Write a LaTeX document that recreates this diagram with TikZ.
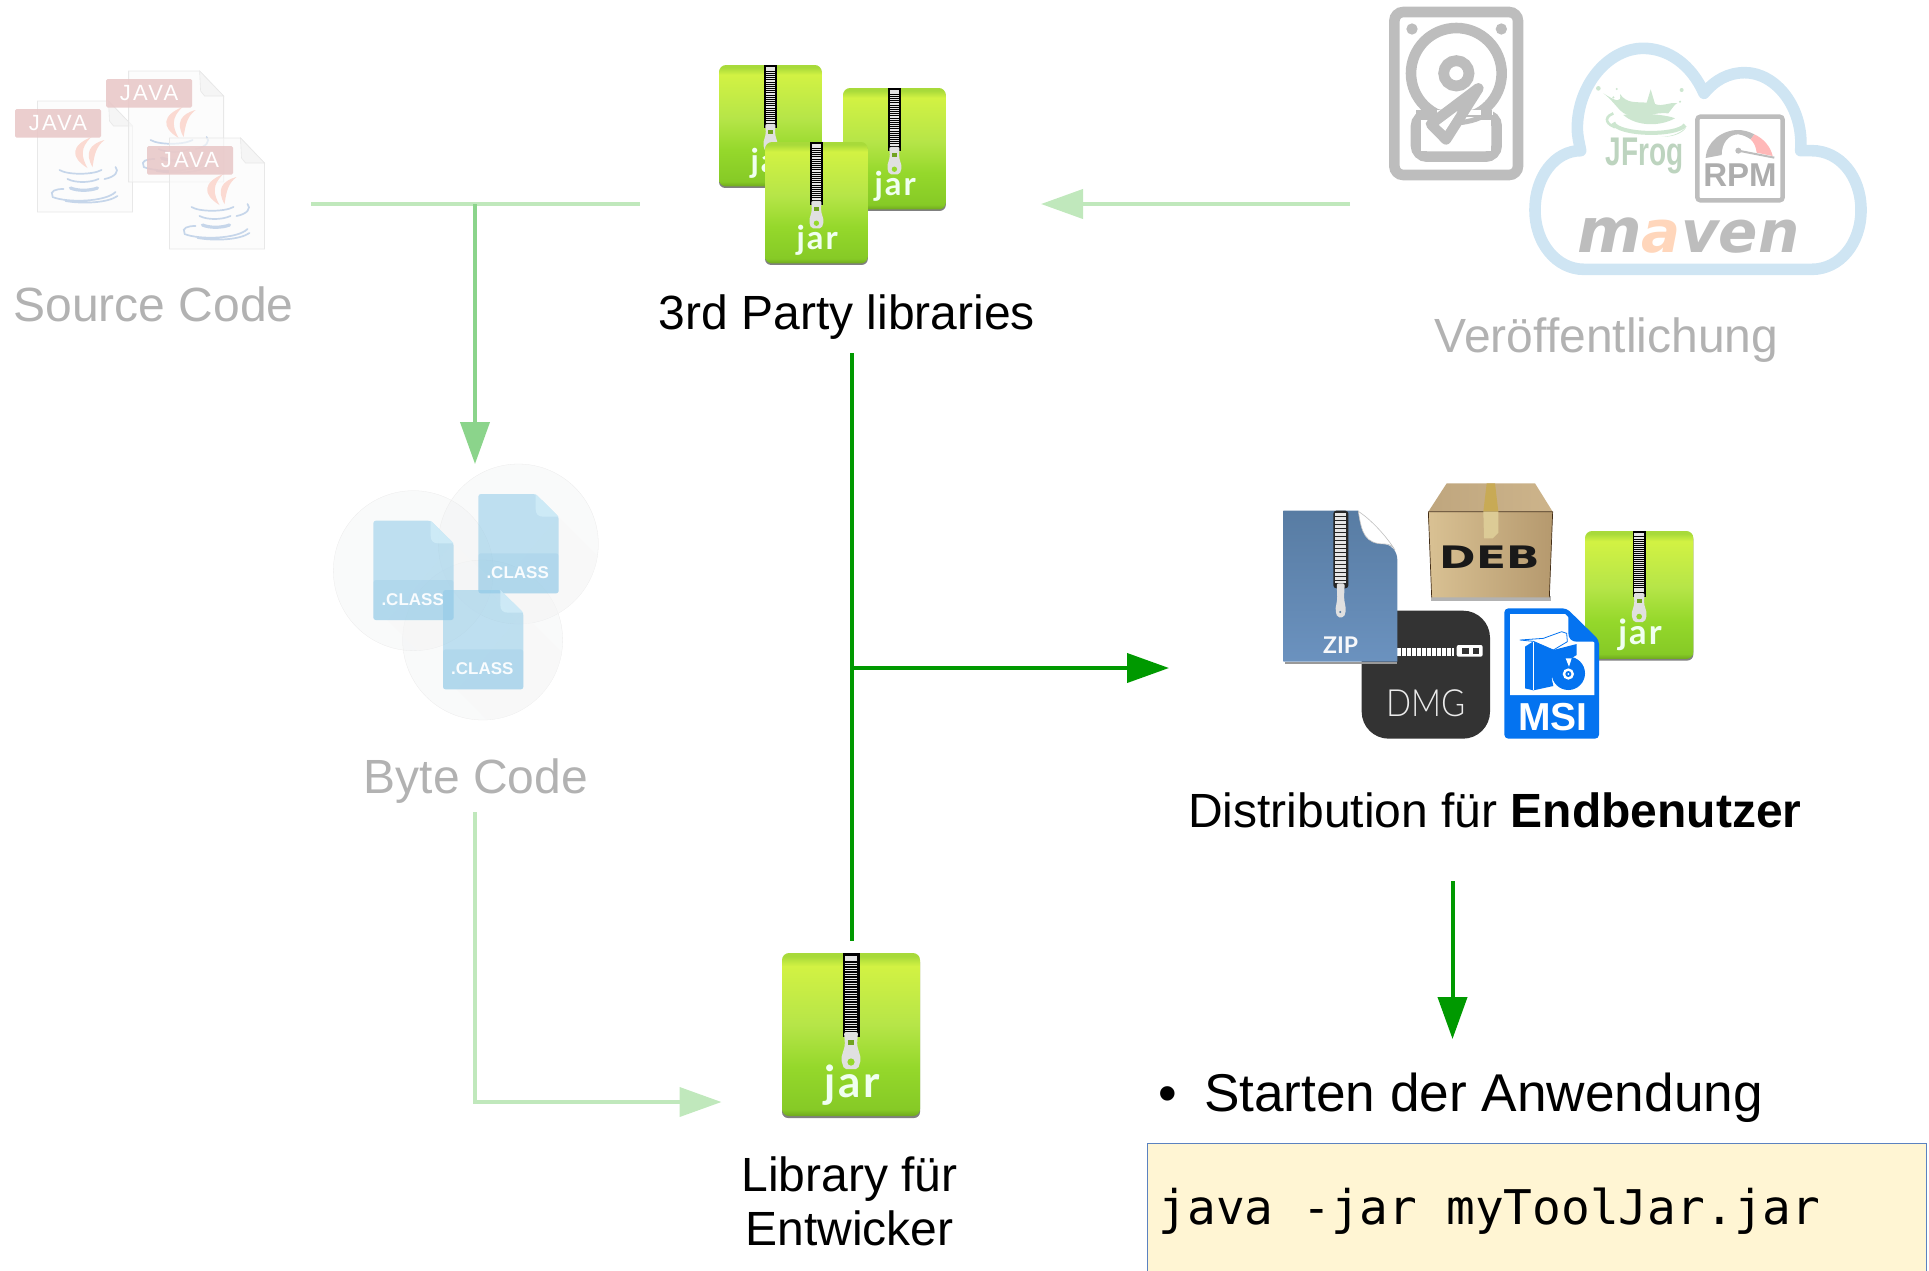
\documentclass[tikz,border=0pt]{standalone}
\usepackage{fontspec}
\setmainfont{Liberation Sans}
\setmonofont{DejaVu Sans Mono}
\newfontfamily\latofont{Lato}
\newfontfamily\latolight{Lato Light}
\newfontfamily\heavyfont{DejaVu Sans}
\usetikzlibrary{arrows.meta}
\newcommand\pxfont[1]{\fontsize{#1}{#1}\selectfont}
\definecolor{darkgreen}{HTML}{009900}
\definecolor{midgreen}{HTML}{8BD48B}
\definecolor{palegreen}{HTML}{C0E8BC}
\definecolor{fadedtext}{HTML}{B2B2B2}
\definecolor{fadedicon}{HTML}{BDBDBD}
\definecolor{cloudblue}{HTML}{CFE5F3}
\definecolor{frogtint}{HTML}{CDE6D0}
\definecolor{jarA}{HTML}{6FA81E}
\definecolor{jarB}{HTML}{86CA26}
\definecolor{jarC}{HTML}{95D82B}
\definecolor{jarD}{HTML}{B6E548}
\definecolor{jarE}{HTML}{D2F243}
\definecolor{jarF}{HTML}{A8DA3A}
\definecolor{codefill}{HTML}{FFF5D3}
\definecolor{codeline}{HTML}{5B82C0}
\definecolor{classcircle}{HTML}{EDEFF0}
\definecolor{classbody}{HTML}{8FCAE8}
\definecolor{classband}{HTML}{7FBEE0}
\definecolor{classfold}{HTML}{D0ECF8}
\definecolor{javared}{HTML}{E8C6C6}
\definecolor{javaflame}{HTML}{FBDAD2}
\definecolor{javacup}{HTML}{C6D6EA}
\definecolor{msiblue}{HTML}{0473F0}
\definecolor{C1}{HTML}{BFA67E}
\definecolor{C2}{HTML}{CDB48B}
\definecolor{C3}{HTML}{D9C193}
\definecolor{C4}{HTML}{B5996E}
\definecolor{C5}{HTML}{C8AA55}
\definecolor{C6}{HTML}{DCCB96}
\definecolor{Z1}{HTML}{587CA3}
\definecolor{Z2}{HTML}{6B92BF}
\pgfdeclareverticalshading{jarshade}{100bp}{color(0bp)=(jarA); color(25bp)=(jarA); color(27bp)=(jarB); color(40bp)=(jarC); color(53bp)=(jarD); color(71bp)=(jarE); color(74bp)=(jarF); color(75bp)=(jarF); color(100bp)=(jarF)}
\tikzset{
  lbl/.style={anchor=base west,inner sep=0pt,outer sep=0pt,font=\pxfont{48}},
  lblc/.style={anchor=base,inner sep=0pt,outer sep=0pt,font=\pxfont{48}},
  icontext/.style={anchor=base,inner sep=0pt,outer sep=0pt},
  tipped/.style={-{Triangle[length=42pt,width=29pt]}},
  wire/.style={line width=4pt},
}
% name, x, y, scale
\newcommand\jaricon[4]{%
\begin{scope}[shift={(#2,#3)},scale=#4]
  \fill[black!50,rounded corners=6pt] (0,3) rectangle (138,165);
  \shade[shading=jarshade,rounded corners=7pt] (0,0) rectangle (138,163);
  \fill[black] (60.5,0) rectangle (77.5,84);
  \fill[black!10] (63,2.5) rectangle (75,6.5);
  \draw[black!10,line width=#4*12pt,dash pattern=on #4*1.3pt off #4*1.2pt] (69,7) -- (69,79);
  \fill[black!12,rounded corners=2pt] (62,79) -- (76,79) -- (75,92) -- (79,106) -- (76,116) -- (62,116) -- (59,106) -- (63,92) -- cycle;
  \fill[jarC] (69,109) circle[radius=3.6pt];
  \fill[jarC!75!black] (66,87) rectangle (72,92);
  \node[icontext,text=white!94!green,font=\latofont\bfseries\pxfont{44},transform shape] (#1) at (70,144) {\addfontfeature{LetterSpace=6}jar};
\end{scope}}
% origin x,y
\newcommand\javafile[3]{%
\begin{scope}[shift={(#1,#2)}]
  \fill[white!98!black,fill opacity=.65,draw=black!9,line width=.8pt] (0,0) -- (71,0) -- (95,25) -- (95,111) -- (0,111) -- cycle;
  \fill[black!4,draw=black!9,line width=.6pt] (71,0) -- (72,20) -- (76,25) -- (95,25) -- cycle;
  \fill[javaflame] (50,67) .. controls (32,56) and (34,44) .. (54,36) .. controls (42,47) and (44,56) .. (50,67) -- cycle;
  \fill[javaflame] (55,66) .. controls (47,52) and (52,43) .. (67,39) .. controls (58,46) and (57,54) .. (55,66) -- cycle;
  \draw[javacup,line width=1.7pt,line cap=round]
    (22,69) .. controls (30,74) and (55,74) .. (64,69)
    (67,78) .. controls (78,76) and (82,70) .. (78,66)
    (30,78) .. controls (38,82) and (52,82) .. (61,78)
    (15,95) .. controls (12,90) and (18,88) .. (26,88)
    (15,96) .. controls (30,102) and (68,101) .. (78,91)
    (28,100) .. controls (45,103) and (70,102) .. (80,95);
  \draw[javacup,line width=3.2pt,line cap=round] (33,87) .. controls (40,90) and (52,90) .. (60,87);
  \fill[javared,fill opacity=.85,rounded corners=1.5pt] (-22.5,8) rectangle (63.5,36.5);
  \node[icontext,text=white,font=\pxfont{22}] (#3) at (20.5,29.5) {\addfontfeature{LetterSpace=10}JAVA};
\end{scope}}
% x0,y0, name (zoom-4 units)
\newcommand\classfile[3]{%
\begin{scope}[shift={(#1,#2)}]
  \fill[classbody,fill opacity=.55,rounded corners=2.5pt] (0,0) -- (172,0) -- (241,68) -- (241,298) -- (0,298) -- cycle;
  \fill[classband,fill opacity=.2,rounded corners=2.5pt] (0,178) -- (241,178) -- (241,298) -- (0,298) -- cycle;
  \fill[classfold,fill opacity=.85] (172,0) -- (241,68) -- (195,68) .. controls (180,68) and (172,60) .. (172,45) -- cycle;
  \node[icontext,text=white!95!classbody,font=\bfseries\pxfont{17}] (#3) at (118,253) {.CLASS};
\end{scope}}
\begin{document}
\begin{tikzpicture}[x=1pt,y=-1pt]
\useasboundingbox (0,0) rectangle (1929,1270);
\clip (0,0) rectangle (1929,1270);

% ---------- source files
\javafile{37.5}{101}{javaA}
\javafile{128.6}{71}{javaB}
\javafile{169.5}{138}{javaC}
\node[lbl,text=fadedtext] (src) at (13.5,321) {Source Code};

% ---------- byte code
\begin{scope}[shift={(310,440)},scale=1/3]
  \foreach \cx/\cy in {310/392,625/312,518/600}{
    \fill[classcircle,fill opacity=.32] (\cx,\cy) circle[radius=240pt];
    \draw[black!8,line width=.3pt] (\cx,\cy) circle[radius=240pt];
  }
  \begin{scope}
    \clip (625,312) circle[radius=240pt];
    \fill[black!3,fill opacity=.5] (746,230) -- (900,384) -- (900,640) -- (640,561) -- (546,461) -- cycle;
  \end{scope}
  \begin{scope}
    \clip (518,600) circle[radius=240pt];
    \fill[black!3,fill opacity=.5] (638,518) -- (800,680) -- (800,900) -- (540,850) -- (440,749) -- cycle;
  \end{scope}
  \begin{scope}
    \clip (310,392) circle[radius=240pt];
    \fill[black!3,fill opacity=.5] (431,308) -- (600,477) -- (600,700) -- (330,640) -- (231,540) -- cycle;
  \end{scope}
  \classfile{190}{242}{classA}
  \classfile{505}{162}{classB}
  \classfile{399}{450}{classC}
\end{scope}
\node[lblc,text=fadedtext] (byte) at (476,793) {Byte Code};

% ---------- third party jars
\jaricon{jarOne}{719}{65}{.745}
\jaricon{jarTwo}{843}{88}{.745}
\jaricon{jarThree}{765}{142}{.745}
\node[lblc] (third) at (847,329.5) {3rd Party libraries};

% ---------- hard disk and cloud
\begin{scope}[shift={(1360,0)},scale=1/3]
  \draw[fadedicon,line width=10.6pt,rounded corners=9pt] (103,36) rectangle (474,525);
  \fill[fadedicon] (156,87) circle[radius=17pt] (424,87) circle[radius=17pt];
  \draw[fadedicon,line width=10.6pt] (289,220) circle[radius=136pt];
  \draw[fadedicon,line width=10.8pt] (289,220) circle[radius=38pt];
  \draw[fadedicon,fill=white,line width=10.6pt,rounded corners=11pt] (168,345) -- (168,470) -- (410,470) -- (410,345) -- cycle;
  \fill[white] (178,330) rectangle (400,345);
  \fill[white] (184,350) rectangle (394,454);
  \draw[fadedicon,line width=10.6pt] (168,345) -- (230,345);
  \draw[fadedicon,line width=10.6pt] (395,345) -- (362,345);
  \draw[fadedicon,line width=5pt] (300,368) .. controls (325,365) and (345,360) .. (362,352);
  \fill[white] (240,340) -- (352,262) -- (300,360) -- (255,400) -- (215,370) -- cycle;
  \draw[fadedicon,line width=10.6pt,line join=round,fill=white] (355,265) -- (213,372) -- (258,418) -- cycle;
  \fill[white] (237,375) -- (291,337) -- (256,392) -- cycle;

  \draw[cloudblue,line width=11.6pt,line join=round] (672,808) -- (1355,808) .. controls (1440,808) and (1503,730) .. (1503,630) .. controls (1503,530) and (1440,452) .. (1355,452) -- (1322,452) .. controls (1332,320) and (1245,218) .. (1155,218) .. controls (1105,218) and (1065,240) .. (1032,280) .. controls (995,195) and (925,145) .. (850,145) .. controls (745,145) and (652,255) .. (652,385) .. controls (652,410) and (658,430) .. (662,452) .. controls (585,452) and (525,530) .. (525,630) .. controls (525,730) and (590,808) .. (672,808) -- cycle;

  % JFrog
  \fill[frogtint] (730,280) .. controls (770,310) and (780,345) .. (810,345) .. controls (850,358) and (880,335) .. (925,340) .. controls (940,320) and (945,312) .. (952,310) .. controls (925,305) and (910,322) .. (885,312) -- (872,268) -- (860,308) .. controls (830,305) and (800,312) .. (780,282) .. controls (785,310) and (770,305) .. (730,280) -- cycle;
  \fill[frogtint] (715,265) circle[radius=7pt] (770,267) circle[radius=3.5pt] (965,270) circle[radius=6pt] (960,305) circle[radius=3.5pt] (760,292) circle[radius=3.5pt];
  \draw[frogtint,line width=2.6pt] (760,340) .. controls (725,355) and (745,375) .. (765,382);
  \draw[frogtint,line width=4pt] (760,368) .. controls (770,405) and (950,410) .. (975,375);
  \fill[frogtint] (790,345) .. controls (830,380) and (900,380) .. (945,355) .. controls (925,345) and (830,335) .. (790,345) -- cycle;
  \fill[frogtint] (905,410) .. controls (940,410) and (970,395) .. (980,378) .. controls (975,395) and (945,412) .. (905,410) -- cycle;
  \node[icontext,text=frogtint!92!black,font=\bfseries\pxfont{40}] (jfrog) at (853,497) {\scalebox{.7}[1]{JFrog}};

  % RPM
  \draw[fadedicon,line width=4.4pt,rounded corners=3pt] (1012,350) rectangle (1268,601);
  \fill[fadedicon] (1037,474) .. controls (1040,425) and (1085,390) .. (1135,390) .. controls (1150,390) and (1168,395) .. (1183,403) -- (1172,418) .. controls (1160,410) and (1150,405) .. (1135,403) .. controls (1105,403) and (1085,430) .. (1085,465) -- cycle;
  \fill[red!28!white] (1183,403) .. controls (1210,415) and (1232,440) .. (1238,468) -- (1190,458) .. controls (1188,440) and (1182,428) .. (1172,418) -- cycle;
  \fill[fadedicon] (1135,452) circle[radius=9pt];
  \draw[fadedicon,line width=2pt] (1135,452) -- (1243,473);
  \node[icontext,text=black!32,font=\bfseries\pxfont{33}] (rpm) at (1140,558) {RPM};

  % maven
  \node[icontext,text=fadedicon,font=\heavyfont\bfseries\itshape\pxfont{58}] (maven) at (985,757) {{\pxfont{62}m}\textcolor[HTML]{FFD6BB}{a}ven};
\end{scope}
\node[lblc,text=fadedtext] (pub) at (1606.5,352) {Veröffentlichung};

% ---------- distribution icons
\begin{scope}[shift={(1260,470)},scale=1/3]
  % DEB
  \fill[black!30] (512,378) rectangle (872,392);
  \shade[left color=C1,right color=C2] (560,40) -- (825,40) -- (878,125) -- (505,125) -- cycle;
  \shade[left color=C3,right color=C4] (505,125) -- (878,125) -- (868,382) -- (515,382) -- cycle;
  \draw[black!65!brown,line width=.7pt] (505,125) -- (878,125) (505,125) -- (515,382) (878,125) -- (868,382);
  \fill[C5] (680,40) -- (705,40) -- (715,125) -- (670,125) -- cycle;
  \fill[C6] (670,125) -- (715,125) -- (715,188) -- (698,205) -- (672,205) -- cycle;
  \node[icontext,text=black!90,font=\heavyfont\bfseries\pxfont{31}] (deb) at (690,295) {\scalebox{1.42}[1]{DEB}};
\end{scope}
\jaricon{jarDist}{1585}{531}{.785}
\begin{scope}[shift={(1260,470)},scale=1/3]
  % DMG
  \fill[black!80,rounded corners=27pt] (305,422) rectangle (690,806);
  \draw[white,line width=8pt,dash pattern=on 3.2pt off 1.8pt] (412,545) -- (582,545);
  \fill[white,rounded corners=2pt] (590,525) rectangle (668,560);
  \fill[black!80] (606,533) rectangle (628,552);
  \fill[black!80] (640,533) rectangle (656,552);
  \node[icontext,text=white!92!black,font=\latolight\pxfont{37.5}] (dmg) at (497,740) {\scalebox{.88}[1]{DMG}};
  % ZIP
  \fill[black!40] (74,575) rectangle (412,581);
  \shade[top color=Z1,bottom color=Z2] (70,122) -- (295,122) .. controls (305,190) and (315,222) .. (375,222) .. controls (395,225) and (412,245) .. (412,270) -- (412,575) -- (70,575) -- cycle;
  \fill[white,draw=black!25,line width=.6pt] (295,124) .. controls (335,150) and (380,200) .. (405,240) .. controls (395,225) and (385,222) .. (375,222) .. controls (315,222) and (305,190) .. (295,124) -- cycle;
  \fill[black!85,rounded corners=3pt] (220,122) -- (265,122) -- (265,355) -- (220,355) -- cycle;
  \draw[white!90!black,line width=11.5pt,dash pattern=on 2.2pt off 1.8pt] (242,130) -- (242,340);
  \fill[black!12,rounded corners=2pt] (230,340) -- (254,340) -- (252,385) -- (258,420) -- (252,442) -- (232,442) -- (226,420) -- (232,385) -- cycle;
  \fill[Z1] (241,426) circle[radius=3.4pt];
  \node[icontext,text=white!95!Z1,font=\latofont\bfseries\pxfont{23}] (zip) at (242,550) {ZIP};
  % MSI
  \fill[msiblue,rounded corners=4pt] (733,415) -- (920,415) -- (1017,510) -- (1017,806) -- (733,806) -- cycle;
  \fill[white] (750,432) -- (915,432) -- (1003,518) -- (1003,675) -- (750,675) -- cycle;
  \fill[msiblue] (925,436) -- (1003,515) -- (950,515) .. controls (935,515) and (925,505) .. (925,490) -- cycle;
  \fill[msiblue] (795,530) -- (820,514) -- (880,540) -- (950,522) -- (950,555) -- (900,585) -- (875,625) -- (880,648) -- (820,661) -- (795,655) -- cycle;
  \draw[white,line width=.8pt] (820,514) -- (820,661);
  \draw[msiblue,line width=.8pt,line join=round] (780,510) -- (850,505) -- (905,485) -- (920,490) -- (922,515) -- (880,540) -- (820,514) -- cycle;
  \fill[msiblue] (925,610) circle[radius=50pt];
  \fill[white] (925,612) circle[radius=17pt];
  \fill[msiblue] (925,612) circle[radius=9pt];
  \fill[white] (925,612) circle[radius=3pt];
  \fill[white] (917,565) -- (935,565) -- (927,590) -- cycle;
  \node[icontext,text=white,font=\bfseries\pxfont{39}] (msi) at (878,780) {MSI};
\end{scope}
\node[lbl,font=\pxfont{48}] (dist) at (1188,827.5) {Distribution für \textbf{Endbenutzer}};

% ---------- library jar
\jaricon{jarLib}{782}{953}{1}
\node[lblc] (libA) at (849.5,1191) {Library für};
\node[lblc] (libB) at (849.5,1245) {Entwicker};

% ---------- start
\node[lbl,font=\pxfont{53.2}] (bullet) at (1158,1111.5) {•};
\node[lbl,font=\pxfont{53.2}] (start) at (1204,1111.5) {Starten der Anwendung};
\node[draw=codeline,fill=codefill,line width=1.2pt,minimum width=779pt,minimum height=140pt,anchor=north west,inner sep=0pt] (codebox) at (1147,1143) {};
\node[lbl,font=\ttfamily\pxfont{47.8}] (code) at (1158.5,1224) {java -jar myToolJar.jar};

% ---------- connectors
\coordinate (srcOut) at (311,204);
\coordinate (thirdIn) at (640,204);
\coordinate (srcDrop) at (475,204);
\coordinate (byteIn) at (475,464);
\coordinate (pubOut) at (1350,204);
\coordinate (thirdFromPub) at (1041,204);
\coordinate (byteOut) at (475,812);
\coordinate (byteBend) at (475,1102);
\coordinate (libIn) at (721.5,1102);
\coordinate (thirdOut) at (851.5,353);
\coordinate (libTop) at (851.5,941);
\coordinate (branch) at (851.5,668);
\coordinate (distIn) at (1169,668);
\coordinate (distOut) at (1452.5,881);
\coordinate (startIn) at (1452.5,1039);

\draw[palegreen,wire] (srcOut) -- (thirdIn);
\draw[midgreen,wire,tipped] (srcDrop) -- (byteIn);
\draw[palegreen,wire,tipped] (pubOut) -- (thirdFromPub);
\draw[palegreen,wire,tipped] (byteOut) -- (byteBend) -- (libIn);
\draw[darkgreen,wire] (thirdOut) -- (libTop);
\draw[darkgreen,wire,tipped] (branch) -- (distIn);
\draw[darkgreen,wire,tipped] (distOut) -- (startIn);
\end{tikzpicture}
\end{document}
